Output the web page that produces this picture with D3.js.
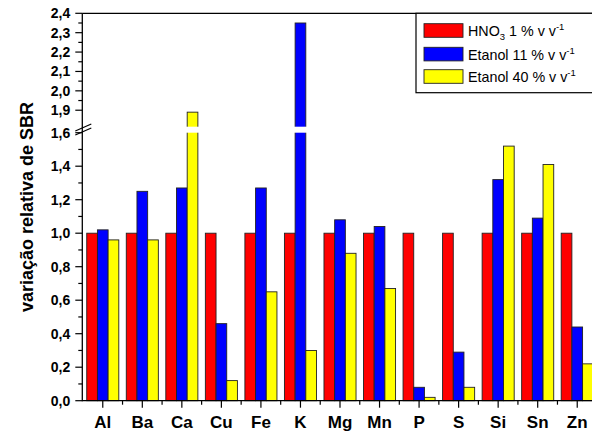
<!DOCTYPE html>
<html>
<head>
<meta charset="utf-8">
<script src="https://cdn.jsdelivr.net/npm/d3@7"></script>
<style>
  html, body { margin: 0; padding: 0; background: #fff; overflow: hidden; }
  text { font-family: Arial, "Liberation Sans", sans-serif; }
</style>
</head>
<body>
<div id="chart"></div>
<script>
// elements on the x axis
const elements = ["Al", "Ba", "Ca", "Cu", "Fe", "K", "Mg", "Mn", "P", "S", "Si", "Sn", "Zn"];

// relative SBR variation for each medium
const hno3 = [1.00, 1.00, 1.00, 1.00, 1.00, 1.00, 1.00, 1.00, 1.00, 1.00, 1.00, 1.00, 1.00];
const etanol11 = [1.02, 1.25, 1.27, 0.46, 1.27, 2.35, 1.08, 1.04, 0.08, 0.29, 1.32, 1.09, 0.44];
const etanol40 = [0.96, 0.96, 1.89, 0.12, 0.65, 0.30, 0.88, 0.67, 0.02, 0.08, 1.52, 1.41, 0.22];

const seriesNames = ["hno3", "et11", "et40"];
const seriesColors = ["#ff0000", "#0000ff", "#ffff00"];

// y tick values (two segments of the broken axis)
const lowerTicks = [0.0, 0.2, 0.4, 0.6, 0.8, 1.0, 1.2, 1.4, 1.6];
const upperTicks = [1.9, 2.0, 2.1, 2.2, 2.3, 2.4];

const W = 592, H = 436;
const plotLeft = 82.3, plotRight = 597, plotBottom = 400.7, plotTop = 13.3;
const breakLow = 132.7, breakHigh = 126.7;

const svg = d3.select("#chart").append("svg")
  .attr("width", W)
  .attr("height", H);

// scales
const x0 = d3.scaleBand().domain(elements).range([plotLeft + 0.7, plotRight]);
const x1 = d3.scaleBand().domain(seriesNames).range([0, x0.bandwidth()]).paddingOuter(0.35);

const yLow = d3.scaleLinear().domain([0, 1.6]).range([plotBottom, breakLow]);
const yHigh = d3.scaleLinear().domain([1.815, 2.4]).range([breakHigh, plotTop]);

function yPos(v) {
  return v <= 1.6 ? yLow(v) : yHigh(v);
}

const fmt = v => d3.format(".1f")(v).replace(".", ",");

// bars
const rows = elements.map((el, i) => ({
  el: el,
  vals: [hno3[i], etanol11[i], etanol40[i]]
}));

const groups = svg.selectAll("g.grp")
  .data(rows)
  .enter().append("g")
  .attr("class", "grp")
  .attr("transform", d => `translate(${x0(d.el)},0)`);

groups.selectAll("rect")
  .data(d => d.vals.map((v, j) => ({ v: v, s: seriesNames[j], c: seriesColors[j] })))
  .enter().append("rect")
  .attr("x", d => x1(d.s))
  .attr("y", d => yPos(d.v))
  .attr("width", x1.bandwidth())
  .attr("height", d => plotBottom - yPos(d.v))
  .attr("fill", d => d.c)
  .attr("stroke", "#222")
  .attr("stroke-width", 0.9);

// white gap over bars crossing the break
svg.append("rect")
  .attr("x", plotLeft + 2)
  .attr("y", breakHigh)
  .attr("width", plotRight - plotLeft)
  .attr("height", breakLow - breakHigh)
  .attr("fill", "#fff");

// axis lines
const axis = svg.append("g").attr("stroke", "#000").attr("stroke-width", 1.3);
axis.append("line").attr("x1", plotLeft).attr("x2", plotLeft).attr("y1", plotTop).attr("y2", plotBottom + 0.6);
axis.append("line").attr("x1", plotLeft).attr("x2", plotRight).attr("y1", plotBottom).attr("y2", plotBottom);
axis.append("line").attr("x1", plotLeft).attr("x2", plotRight).attr("y1", plotTop).attr("y2", plotTop);

// y ticks
const yt = svg.append("g").attr("stroke", "#000").attr("stroke-width", 1.2);
lowerTicks.forEach(v => {
  yt.append("line").attr("x1", plotLeft - 7).attr("x2", plotLeft).attr("y1", yLow(v)).attr("y2", yLow(v));
});
lowerTicks.slice(0, -1).forEach(v => {
  const m = v + 0.1;
  yt.append("line").attr("x1", plotLeft - 4).attr("x2", plotLeft).attr("y1", yLow(m)).attr("y2", yLow(m));
});
upperTicks.forEach(v => {
  yt.append("line").attr("x1", plotLeft - 7).attr("x2", plotLeft).attr("y1", yHigh(v)).attr("y2", yHigh(v));
});
upperTicks.slice(0, -1).forEach(v => {
  const m = v + 0.05;
  yt.append("line").attr("x1", plotLeft - 4).attr("x2", plotLeft).attr("y1", yHigh(m)).attr("y2", yHigh(m));
});

const ylab = svg.append("g")
  .attr("font-size", "14px")
  .attr("font-weight", "bold")
  .attr("text-anchor", "end")
  .attr("fill", "#000");
lowerTicks.forEach(v => {
  ylab.append("text").attr("x", plotLeft - 12).attr("y", yLow(v) + 5).text(fmt(v));
});
upperTicks.forEach(v => {
  ylab.append("text").attr("x", plotLeft - 12).attr("y", yHigh(v) + 5).text(fmt(v));
});

// break marks on the y axis
const brk = svg.append("g").attr("stroke", "#000").attr("stroke-width", 1.2);
brk.append("line").attr("x1", plotLeft - 7).attr("y1", 131).attr("x2", plotLeft + 9).attr("y2", 124);
brk.append("line").attr("x1", plotLeft - 7).attr("y1", 135).attr("x2", plotLeft + 9).attr("y2", 128);

// x ticks
const xt = svg.append("g").attr("stroke", "#000").attr("stroke-width", 1.2);
elements.forEach(el => {
  const c = x0(el) + x0.bandwidth() / 2;
  xt.append("line").attr("x1", c).attr("x2", c).attr("y1", plotBottom).attr("y2", plotBottom + 7);
  const b = x0(el);
  if (el !== elements[0]) {
    xt.append("line").attr("x1", b).attr("x2", b).attr("y1", plotBottom).attr("y2", plotBottom + 4);
  }
});

svg.append("g")
  .attr("font-size", "17px")
  .attr("font-weight", "bold")
  .attr("text-anchor", "middle")
  .selectAll("text")
  .data(elements)
  .enter().append("text")
  .attr("x", d => x0(d) + x0.bandwidth() / 2)
  .attr("y", 428)
  .text(d => d);

// y axis title
svg.append("text")
  .attr("transform", "translate(33,207) rotate(-90)")
  .attr("text-anchor", "middle")
  .attr("font-size", "18px")
  .attr("font-weight", "bold")
  .text("variação relativa de SBR");

// legend
const legendLabels = [
  { main: "HNO", sub: "3", rest: " 1 % v v" },
  { main: "Etanol 11 % v v", sub: null, rest: "" },
  { main: "Etanol 40 % v v", sub: null, rest: "" }
];

const legend = svg.append("g");
legend.append("rect")
  .attr("x", 416).attr("y", plotTop)
  .attr("width", 200).attr("height", 79.4)
  .attr("fill", "#fff")
  .attr("stroke", "#000")
  .attr("stroke-width", 1.2);

const swY = [23.7, 47.3, 69.7];
legendLabels.forEach((lab, i) => {
  legend.append("rect")
    .attr("x", 424).attr("y", swY[i])
    .attr("width", 39).attr("height", 13.6)
    .attr("fill", seriesColors[i])
    .attr("stroke", "#222")
    .attr("stroke-width", 0.9);

  const t = legend.append("text")
    .attr("x", 468)
    .attr("y", swY[i] + 12.5)
    .attr("font-size", "14.3px")
    .attr("fill", "#000");
  t.append("tspan").text(lab.main);
  if (lab.sub) {
    t.append("tspan").attr("font-size", "9.5px").attr("dy", 4).text(lab.sub);
    t.append("tspan").attr("dy", -4).text(lab.rest);
  }
  t.append("tspan").attr("font-size", "9.5px").attr("dy", -6).text("-1");
});
</script>
</body>
</html>
